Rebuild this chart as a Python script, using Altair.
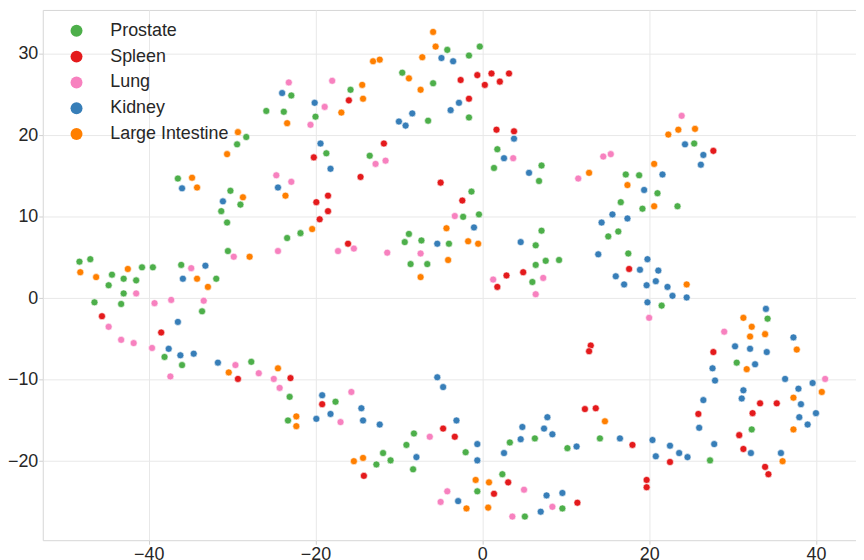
import altair as alt
import pandas as pd

tissues = ["Prostate", "Spleen", "Lung", "Kidney", "Large Intestine"]
colors = ["#4daf4a", "#e41a1c", "#f781bf", "#377eb8", "#ff7f00"]

prostate = [(-22.9,24.9),(-25.9,23.0),(-23.8,22.9),(-28.3,19.8),(-29.4,18.9),(-4.2,30.5),(-0.3,30.9),(-1.6,29.8),
 (-9.6,27.7),(-5.9,26.4),(-1.6,22.2),(-6.5,21.8),(-15.8,25.6),(-20.0,22.3),(-18.7,17.8),(-13.5,17.5),(1.8,18.3),
 (1.4,16.0),(7.1,16.3),(25.4,19.0),(17.2,15.2),(18.8,15.1),
 (-36.5,14.7),(-30.2,13.2),(-29.0,11.5),(-31.3,10.7),(-30.6,9.3),(-21.8,8.0),(-23.4,7.4),(-30.5,5.8),(-48.3,4.5),
 (-47.0,4.8),(-44.4,2.9),(-40.8,3.8),(-39.5,3.8),(-43.0,2.4),(-41.5,2.2),(-44.8,1.6),(-43.0,0.6),(-36.1,4.1),
 (-31.9,2.4),(-46.5,-0.5),(-43.3,-0.7),(-33.6,-1.6),
 (6.8,14.4),(-1.3,13.1),(-2.3,10.0),(-0.4,10.3),(-4.0,6.7),(-8.8,7.9),(-9.3,6.9),(-7.3,7.1),(-8.6,4.2),(-6.6,4.2),
 (7.1,8.3),(6.4,6.5),(7.6,4.6),(9.2,4.7),(6.4,4.1),(6.0,2.0),
 (21.0,12.9),(16.6,11.8),(19.2,11.0),(23.4,11.3),(16.3,8.2),(15.1,7.6),(17.5,5.5),(21.5,-0.9),(34.2,-2.5),
 (-38.1,-7.2),(-36.0,-8.2),(-27.7,-7.8),(-23.1,-12.1),(-23.3,-15.0),
 (-17.6,-12.7),(-12.7,-20.4),(-11.9,-19.0),(-11.0,-19.9),(-9.1,-18.0),(-8.2,-16.6),(-8.3,-21.0),(-2.0,-18.9),
 (-0.6,-23.7),(2.4,-21.6),(3.3,-17.7),(6.3,-17.2),(10.2,-18.4),(5.1,-26.8),(9.6,-25.8),
 (14.1,-17.2),(27.3,-19.9),(30.5,-7.9),(32.3,-16.1)]

spleen = [(-2.6,26.8),(-0.6,27.4),(1.1,27.6),(3.2,27.6),(0.3,26.2),(2.1,26.6),(-1.6,24.5),(-16.0,24.3),(-20.2,17.3),
 (-11.8,19.0),(1.7,20.7),(3.8,20.5),(27.7,18.1),
 (-45.6,-2.2),(-38.5,-4.2),(-14.6,14.9),(-5.0,14.2),(-18.5,12.6),(-19.9,11.8),(-18.5,10.7),(-19.5,9.7),(-2.4,12.0),
 (-16.1,6.7),(4.9,3.2),(2.9,2.8),(1.8,1.4),(17.6,3.6),
 (-29.3,-9.9),(-23.0,-9.8),(-19.2,-13.0),(-14.2,-21.8),(-4.7,-16.0),(-3.3,-17.0),(1.4,-24.0),(3.1,-22.6),(11.4,-25.1),
 (13.0,-5.8),(12.8,-6.5),(12.3,-13.6),(13.6,-13.5),(18.0,-18.0),(19.7,-22.3),(19.7,-23.2),(22.5,-20.1),(25.9,-14.2),
 (27.7,-6.6),(33.3,-12.9),(35.3,-12.9),(32.4,-14.1),(30.8,-16.8),(31.3,-18.5),(33.9,-20.7),(34.3,-21.6)]

lung = [(-23.2,26.5),(-20.6,21.3),(-24.7,15.1),(-18.0,26.7),(-18.9,23.5),(-12.8,16.5),(-11.6,16.9),(3.7,17.2),
 (23.9,22.4),(14.5,17.4),(15.4,17.7),
 (-22.9,14.3),(-24.5,5.8),(-29.8,5.1),(-41.5,0.6),(-34.9,3.7),(-39.3,-0.6),(-37.3,-0.2),(-33.4,-0.3),(-44.8,-3.5),
 (-43.3,-5.1),(-41.8,-5.5),(11.5,14.7),(-3.3,10.1),(-7.4,5.5),(-17.3,5.8),(-15.4,6.1),(-11.4,5.6),(1.3,2.3),
 (7.3,2.5),(6.4,0.5),(20.0,-2.4),(29.0,-4.1),
 (-39.6,-6.1),(-37.4,-9.6),(-29.6,-8.2),(-26.8,-9.2),(-25.0,-9.9),(-24.3,-11.0),(-17.0,-15.2),(-15.7,-11.5),
 (-6.3,-17.0),(-4.2,-23.7),(-5.0,-25.0),(5.0,-23.5),(3.6,-26.8),(8.4,-25.6),(41.1,-9.9)]

kidney = [(-24.0,25.2),(-4.9,29.5),(-3.5,29.1),(-2.8,24.0),(-3.8,23.1),(-8.4,22.7),(-10.0,21.7),(-9.2,21.2),
 (-20.1,24.0),(-19.4,19.0),(-18.2,15.9),(3.8,19.6),(2.6,17.2),(5.6,15.4),(24.3,18.9),(26.5,17.6),(26.2,16.4),(21.6,15.2),
 (-36.0,13.5),(-24.5,13.6),(-31.1,11.9),(-33.2,4.0),(-35.9,2.4),(-36.5,-2.9),(-1.0,8.7),(-5.4,6.7),(4.6,6.9),
 (19.4,13.3),(15.6,10.3),(14.3,9.3),(17.4,9.8),(13.9,5.4),(19.8,4.8),(18.9,3.5),(21.1,3.4),(16.0,2.7),(17.0,1.7),
 (19.7,1.6),(20.8,2.1),(22.2,1.4),(22.8,0.3),(24.5,0.1),(19.8,-0.5),(34.0,-1.3),(37.3,-4.8),
 (-37.6,-6.2),(-36.2,-7.0),(-34.6,-6.8),(-31.7,-7.9),(-19.9,-14.8),(-19.2,-11.9),(-18.2,-14.2),(-14.5,-13.5),
 (-14.3,-15.0),(-12.3,-15.5),(-7.9,-19.5),(-5.4,-9.7),(-4.7,-10.9),(-3.1,-15.0),(-0.6,-17.9),(-0.6,-19.9),
 (-2.9,-24.9),(2.6,-19.0),(4.8,-15.8),(4.6,-17.3),(7.4,-16.0),(7.8,-14.6),(8.4,-16.7),(11.3,-18.2),(7.0,-26.2),
 (7.7,-24.2),(9.6,-23.9),(16.5,-17.2),(20.4,-17.4),(20.8,-19.4),(22.5,-18.1),(23.6,-19.0),(24.6,-19.5),(26.0,-15.9),
 (26.5,-12.5),(27.8,-17.9),(27.9,-10.1),(27.6,-8.6),(30.3,-5.9),(32.1,-6.2),(34.1,-6.6),(32.7,-8.1),(36.3,-9.9),
 (31.3,-11.3),(31.1,-12.3),(32.2,-19.0),(35.8,-19.0),(37.9,-11.1),(38.2,-13.0),(38.0,-14.6),(39.0,-15.5),
 (40.0,-14.1),(39.6,-10.4)]

large_intestine = [(-23.4,21.5),(-29.3,20.4),(-30.6,17.7),(-5.9,32.7),(-5.6,30.9),(-7.2,29.6),(-13.1,29.1),
 (-12.3,29.3),(-8.8,27.0),(-7.4,25.6),(-14.4,26.2),(-14.3,24.5),(-16.9,22.8),(23.5,20.7),(25.5,20.8),(22.3,20.1),
 (20.6,16.5),(12.8,15.4),
 (-34.8,14.8),(-34.2,13.6),(-23.6,12.6),(-28.7,12.4),(-20.4,8.5),(-27.9,5.1),(-48.2,3.2),(-46.3,2.6),(-42.5,3.6),
 (-34.2,2.4),(-32.9,1.4),(-4.3,8.6),(-1.7,7.0),(-0.5,6.7),(-4.1,4.7),(-7.4,2.6),(17.4,13.9),(20.6,11.3),(24.5,1.7),
 (31.3,-2.4),(32.3,-3.5),(32.1,-4.7),(33.9,-4.4),
 (-30.4,-9.1),(-24.5,-8.6),(-22.3,-14.5),(-22.3,-15.7),(-15.4,-20.0),(-14.3,-19.6),(-1.9,-25.8),(-0.8,-22.3),
 (0.8,-22.6),(0.7,-25.7),(14.7,-15.1),(37.7,-6.3),(31.7,-8.7),(36.0,-20.0),(37.3,-12.2),(37.3,-16.1),(40.7,-11.5)]

x_ticks = [-40, -20, 0, 20, 40]
y_ticks = [-20, -10, 0, 10, 20, 30]

rows = []
for name, pts in zip(tissues, [prostate, spleen, lung, kidney, large_intestine]):
    for x, y in pts:
        rows.append({"x": x, "y": y, "tissue": name})
df = pd.DataFrame(rows)

chart = alt.Chart(df).mark_circle(size=50, opacity=1, stroke="white", strokeWidth=0.6).encode(
    x=alt.X("x:Q", scale=alt.Scale(domain=[-52.7, 44.8], nice=False, zero=False),
            axis=alt.Axis(values=x_ticks, title=None, labelPadding=1)),
    y=alt.Y("y:Q", scale=alt.Scale(domain=[-29.7, 35.4], nice=False, zero=False),
            axis=alt.Axis(values=y_ticks, title=None, labelPadding=1)),
    color=alt.Color("tissue:N", sort=tissues,
                    scale=alt.Scale(domain=tissues, range=colors),
                    legend=alt.Legend(title=None, orient="none", legendX=25, legendY=12,
                                      symbolType="circle", symbolSize=145, symbolStrokeWidth=0,
                                      symbolOpacity=1, labelFontSize=18, labelColor="#262626",
                                      labelOffset=25, rowPadding=8, padding=0)),
).properties(
    width=819, height=534,
    autosize=alt.AutoSizeParams(type="none"),
    padding={"left": 35, "top": 0, "right": 0, "bottom": 22},
).configure(font="Liberation Sans").configure_axis(
    labelFontSize=18, labelColor="#262626", tickSize=4, tickColor="#d0d0d0", tickWidth=1,
    domain=False, grid=True, gridColor="#e8e8e8", gridWidth=1,
).configure_view(stroke="#d6d6d6", strokeWidth=1)

chart.save("out.html", embed_options={"renderer": "svg", "actions": False})
